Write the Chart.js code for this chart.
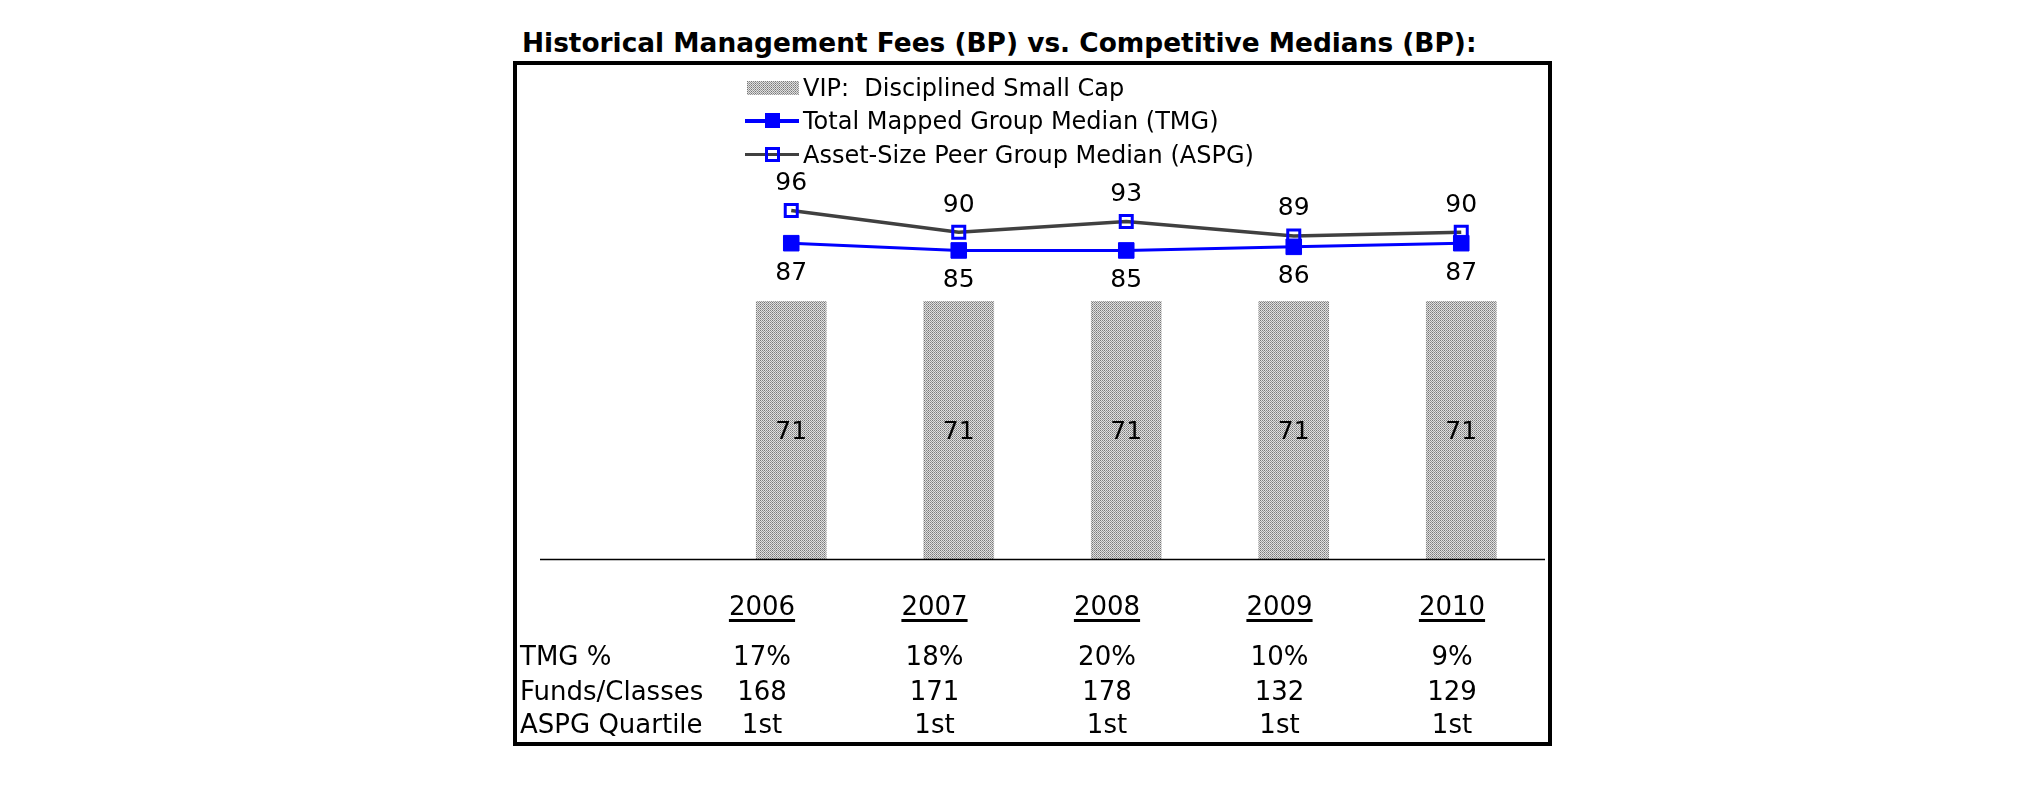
<!DOCTYPE html>
<html>
<head>
<meta charset="utf-8">
<script src="https://cdn.jsdelivr.net/npm/chart.js"></script>
<style>
    html, body {
        margin: 0;
        padding: 0;
        background: #fff;
        width: 2025px;
        height: 806px;
        overflow: hidden;
        font-family: "DejaVu Sans", Verdana, sans-serif;
        color: #000;
    }
    #title {
        position: absolute;
        left: 522px;
        top: 28px;
        font-size: 26.4px;
        line-height: 30px;
        font-weight: bold;
        white-space: pre;
    }
    #frame {
        position: absolute;
        left: 513px;
        top: 61px;
        width: 1039px;
        height: 685px;
        border: 4px solid #000;
        box-sizing: border-box;
    }
    #chart {
        position: absolute;
        left: 0;
        top: 0;
    }
    #legend {
        position: absolute;
        left: 745px;
        top: 71px;
    }
    .legend-row {
        display: flex;
        align-items: center;
        height: 33.5px;
        font-size: 24px;
        white-space: pre;
    }
    .swatch {
        position: relative;
        width: 54px;
        height: 32px;
        margin-right: 4px;
    }
    .swatch .fill {
        position: absolute;
        left: 2px;
        right: 0;
        top: 9px;
        height: 14px;
    }
    .swatch .line {
        position: absolute;
        left: 0;
        right: 0;
        top: 14px;
        height: 3.5px;
    }
    .swatch .marker {
        position: absolute;
        box-sizing: border-box;
        left: 20px;
        top: 8px;
        width: 15px;
        height: 15px;
    }
    .cell {
        position: absolute;
        font-size: 26px;
        line-height: 30px;
        white-space: pre;
    }
    .cell.value {
        width: 160px;
        text-align: center;
    }
    .cell.year {
        text-decoration: underline;
        text-decoration-thickness: 3px;
        text-underline-offset: 4px;
    }
</style>
</head>
<body>
<div id="title">Historical Management Fees (BP) vs. Competitive Medians (BP):</div>
<div id="frame"></div>
<canvas id="chart" width="2025" height="806"></canvas>
<div id="legend"></div>
<div id="table"></div>
<script>
const years = [2006, 2007, 2008, 2009, 2010];
const vipFees = [71, 71, 71, 71, 71];
const tmgMedians = [87, 85, 85, 86, 87];
const aspgMedians = [96, 90, 93, 89, 90];
const seriesNames = ["VIP:  Disciplined Small Cap", "Total Mapped Group Median (TMG)", "Asset-Size Peer Group Median (ASPG)"];

const rowLabels = ["TMG %", "Funds/Classes", "ASPG Quartile"];
const tmgPercent = ["17%", "18%", "20%", "10%", "9%"];
const fundsClasses = [168, 171, 178, 132, 129];
const aspgQuartile = ["1st", "1st", "1st", "1st", "1st"];

Chart.defaults.font.family = '"DejaVu Sans", Verdana, sans-serif';

// grey stipple used for the bars (and the legend swatch)
function makeStipple() {
    const c = document.createElement("canvas");
    c.width = 4;
    c.height = 4;
    const g = c.getContext("2d");
    g.fillStyle = "#e0e0e0";
    g.fillRect(0, 0, 4, 4);
    const dark = ["#767676", "#969696", "#848484", "#a0a0a0"];
    for (let y = 0; y < 4; y++) {
        for (let x = 0; x < 4; x++) {
            if ((x + y) % 2 === 0) {
                g.fillStyle = dark[(x + 2 * y) % 4];
                g.fillRect(x, y, 1, 1);
            }
        }
    }
    return c;
}
const stipple = makeStipple();
const ctx = document.getElementById("chart");
const stipplePattern = ctx.getContext("2d").createPattern(stipple, "repeat");

function toPoints(values) {
    return years.map((yr, i) => ({ x: yr, y: values[i] }));
}

// black base line under the bars, running out to the left of the plot
const baseLinePlugin = {
    id: "baseLine",
    afterDatasetsDraw(chart) {
        const c = chart.ctx;
        const y = Math.round(chart.scales.y.getPixelForValue(0)) + 0.5;
        c.save();
        c.strokeStyle = "#000";
        c.lineWidth = 1.5;
        c.beginPath();
        c.moveTo(chart.chartArea.left, y);
        c.lineTo(chart.chartArea.right, y);
        c.stroke();
        c.restore();
    }
};

// value labels: centred in the bars, above / below the line points
const valueLabelPlugin = {
    id: "valueLabels",
    afterDatasetsDraw(chart) {
        const c = chart.ctx;
        c.save();
        c.font = '25px "DejaVu Sans", Verdana, sans-serif';
        c.fillStyle = "#000";
        c.textAlign = "center";
        c.textBaseline = "middle";
        chart.data.datasets.forEach((ds, i) => {
            const meta = chart.getDatasetMeta(i);
            meta.data.forEach((el, j) => {
                let y;
                if (ds.type === "bar") {
                    y = (el.y + el.base) / 2 + 2;
                } else {
                    y = el.y + ds.labelOffset;
                }
                c.fillText(String(ds.data[j].y), el.x, y);
            });
        });
        c.restore();
    }
};

const chart = new Chart(ctx, {
    type: "bar",
    data: {
        datasets: [{
            type: "bar",
            label: seriesNames[0],
            data: toPoints(vipFees),
            backgroundColor: stipplePattern,
            borderWidth: 0,
            barThickness: 70,
            order: 3
        }, {
            type: "line",
            label: seriesNames[1],
            data: toPoints(tmgMedians),
            borderColor: "#0000ff",
            borderWidth: 3,
            pointStyle: "rect",
            pointRadius: 11,
            pointBackgroundColor: "#0000ff",
            pointBorderColor: "#0000ff",
            pointBorderWidth: 1,
            labelOffset: 30,
            order: 2
        }, {
            type: "line",
            label: seriesNames[2],
            data: toPoints(aspgMedians),
            borderColor: "#404040",
            borderWidth: 3.5,
            pointStyle: "rect",
            pointRadius: 8.5,
            pointBackgroundColor: "rgba(255,255,255,0)",
            pointBorderColor: "#0000ff",
            pointBorderWidth: 3,
            labelOffset: -27,
            order: 1
        }]
    },
    options: {
        responsive: false,
        animation: false,
        layout: {
            padding: { left: 540, right: 480, top: 196, bottom: 247 }
        },
        plugins: {
            legend: { display: false },
            tooltip: { enabled: false }
        },
        scales: {
            x: {
                type: "linear",
                min: years[0] - 1.5,
                max: years[years.length - 1] + 0.5,
                offset: false,
                display: false
            },
            y: {
                min: 0,
                max: 100,
                display: false
            }
        }
    },
    plugins: [baseLinePlugin, valueLabelPlugin]
});

// legend, one entry per row
const legendBox = document.getElementById("legend");
chart.data.datasets.forEach(ds => {
    const row = document.createElement("div");
    row.className = "legend-row";
    const sw = document.createElement("div");
    sw.className = "swatch";
    if (ds.type === "bar") {
        const fill = document.createElement("div");
        fill.className = "fill";
        fill.style.backgroundImage = `url(${stipple.toDataURL()})`;
        sw.appendChild(fill);
    } else {
        const line = document.createElement("div");
        line.className = "line";
        line.style.background = ds.borderColor;
        const marker = document.createElement("div");
        marker.className = "marker";
        marker.style.background = ds.pointBackgroundColor;
        marker.style.border = `${ds.pointBorderWidth === 1 ? 0 : ds.pointBorderWidth}px solid ${ds.pointBorderColor}`;
        sw.appendChild(line);
        sw.appendChild(marker);
    }
    const txt = document.createElement("span");
    txt.textContent = ds.label;
    row.appendChild(sw);
    row.appendChild(txt);
    legendBox.appendChild(row);
});

// data table under the chart
const tableBox = document.getElementById("table");
const colCenters = years.map((yr, i) => 762 + i * 172.5);
const rowCenters = [656, 691, 724];
const rowValues = [tmgPercent, fundsClasses, aspgQuartile];

function addCell(text, cls, left, centerY) {
    const d = document.createElement("div");
    d.className = "cell " + cls;
    d.textContent = text;
    d.style.left = left + "px";
    d.style.top = (centerY - 15) + "px";
    tableBox.appendChild(d);
    return d;
}

years.forEach((yr, i) => {
    const d = addCell(String(yr), "year", 0, 606);
    d.style.left = (colCenters[i] - 80) + "px";
    d.style.width = "160px";
    d.style.textAlign = "center";
});
rowLabels.forEach((label, r) => {
    addCell(label, "label", 520, rowCenters[r]);
    rowValues[r].forEach((v, i) => {
        addCell(String(v), "value", colCenters[i] - 80, rowCenters[r]);
    });
});
</script>
</body>
</html>
